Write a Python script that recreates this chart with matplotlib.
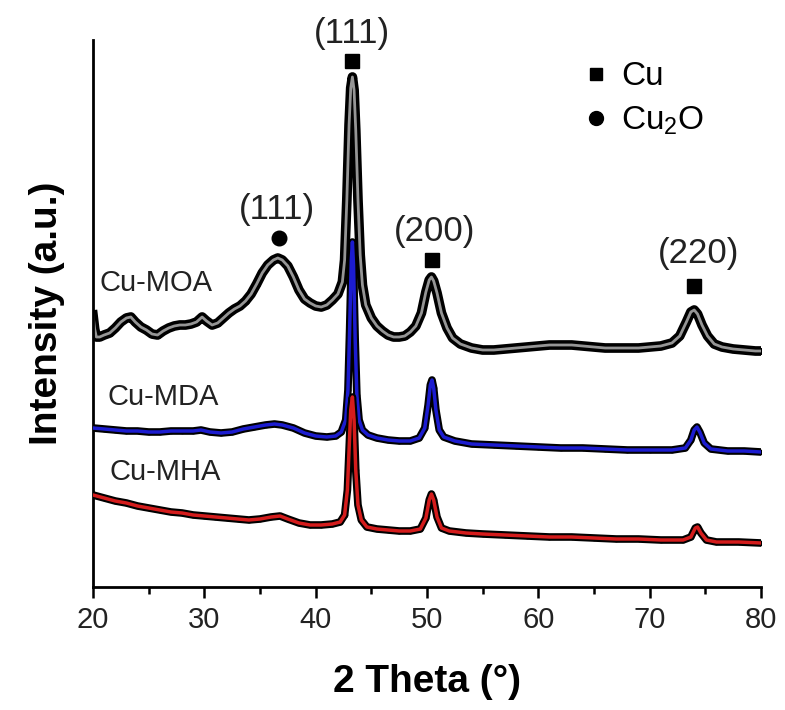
import matplotlib
matplotlib.use("Agg")
import matplotlib.pyplot as plt
from matplotlib.lines import Line2D
from matplotlib.ticker import MultipleLocator

plt.rcParams['font.family'] = ['Liberation Sans', 'DejaVu Sans']

# ---------------- data (arbitrary intensity units) ----------------
moa_2theta = [20.0, 20.15, 20.3, 20.6, 21.0, 21.5, 22.0, 22.5, 23.0, 23.4, 23.8, 24.3, 24.8,
              25.3, 25.8, 26.3, 26.8, 27.3, 27.8, 28.3, 28.8, 29.3, 29.8, 30.2, 30.7, 31.2,
              31.7, 32.2, 32.7, 33.2, 33.7, 34.2, 34.7, 35.2, 35.7, 36.2, 36.6, 37.0, 37.5,
              38.0, 38.5, 39.0, 39.5, 40.0, 40.5, 41.0, 41.5, 42.0, 42.4, 42.6, 42.8, 43.0,
              43.15, 43.3, 43.45, 43.6, 43.8, 44.0, 44.2, 44.5, 45.0, 45.5, 46.0, 46.5, 47.0,
              47.5, 48.0, 48.5, 49.0, 49.5, 49.9, 50.2, 50.4, 50.6, 50.9, 51.3, 51.8, 52.3,
              53.0, 54.0, 55.0, 56.0, 57.0, 58.0, 59.0, 60.0, 61.0, 62.0, 63.0, 64.0, 65.0,
              66.0, 67.0, 68.0, 69.0, 70.0, 71.0, 72.0, 72.7, 73.3, 73.7, 74.0, 74.3, 74.7,
              75.2, 75.8, 76.5, 77.5, 78.5, 79.5, 80.0]
moa_int = [272, 258, 250, 250, 252, 254, 259, 265, 269, 270, 265, 260, 257,
           253, 252, 256, 259, 261, 262, 262, 263, 265, 270, 266, 262, 264,
           269, 274, 278, 281, 286, 293, 303, 314, 322, 327, 329, 327, 321,
           310, 297, 288, 284, 281, 280, 282, 287, 293, 305, 327, 387, 462,
           499, 510, 497, 457, 387, 332, 302, 282, 269, 261, 256, 252, 250,
           250, 251, 255, 261, 274, 295, 307, 310, 306, 294, 274, 259, 249,
           243, 239, 237, 237, 238, 239, 240, 241, 242, 242, 242, 241, 240,
           239, 239, 239, 239, 240, 241, 244, 251, 265, 275, 277, 273, 262,
           251, 243, 240, 238, 237, 236, 236]

mda_2theta = [20.0, 21.0, 22.0, 23.0, 24.0, 25.0, 26.0, 27.0, 28.0, 29.0, 29.7, 30.5, 31.5,
              32.5, 33.5, 34.5, 35.5, 36.3, 37.0, 38.0, 39.0, 40.0, 41.0, 41.8, 42.3, 42.7,
              42.9, 43.05, 43.2, 43.3, 43.4, 43.55, 43.7, 43.9, 44.2, 44.7, 45.5, 46.5, 47.5,
              48.5, 49.3, 49.8, 50.1, 50.3, 50.45, 50.6, 50.8, 51.1, 51.5, 52.5, 54.0, 56.0,
              58.0, 60.0, 62.0, 64.0, 66.0, 68.0, 70.0, 72.0, 73.2, 73.7, 74.0, 74.25, 74.5,
              74.9, 75.5, 77.0, 78.5, 80.0]
mda_int = [159, 158, 157, 156, 156, 155, 155, 156, 156, 156, 157, 155, 154,
           155, 158, 160, 162, 163, 162, 159, 154, 151, 150, 151, 155, 167,
           197, 257, 327, 345, 322, 247, 192, 167, 157, 152, 149, 147, 146,
           146, 149, 159, 182, 202, 207, 199, 177, 157, 150, 146, 143, 142,
           141, 140, 139, 139, 138, 137, 137, 137, 139, 147, 157, 160, 155,
           144, 138, 136, 136, 135]

mha_2theta = [20.0, 21.0, 22.0, 23.0, 24.0, 25.0, 26.0, 27.0, 28.0, 29.0, 30.0, 31.0, 32.0,
              33.0, 34.0, 35.0, 36.0, 36.8, 37.5, 38.5, 39.5, 40.5, 41.5, 42.2, 42.6, 42.85,
              43.0, 43.15, 43.3, 43.45, 43.6, 43.8, 44.1, 44.6, 45.5, 46.5, 47.5, 48.5, 49.4,
              49.9, 50.2, 50.4, 50.6, 50.9, 51.3, 52.0, 53.5, 55.0, 57.0, 59.0, 61.0, 63.0,
              65.0, 67.0, 69.0, 71.0, 73.0, 73.7, 74.1, 74.3, 74.6, 75.1, 76.0, 78.0, 80.0]
mha_int = [92, 89, 86, 84, 81, 79, 77, 75, 74, 72, 71, 70, 69,
           68, 67, 68, 70, 71, 68, 64, 62, 62, 63, 65, 72, 97,
           137, 177, 190, 167, 117, 82, 67, 60, 58, 57, 56, 56, 58,
           69, 87, 93, 87, 70, 59, 56, 54, 53, 52, 51, 50, 50,
           49, 48, 48, 47, 47, 50, 59, 60, 54, 47, 45, 45, 44]

sample_names = ['Cu-MOA', 'Cu-MDA', 'Cu-MHA']
sample_label_x = [20.6, 21.3, 21.5]
sample_label_y = [304, 190, 115]

# peak markers: (2theta, marker y, label y, label, marker)
peak_x = [36.7, 43.3, 50.45, 74.0]
peak_marker_y = [349, 526, 327, 301]
peak_label_x = [36.55, 43.3, 50.7, 74.4]
peak_label_y = [377, 554, 355, 334]
peak_labels = ['(111)', '(111)', '(200)', '(220)']
peak_markers = ['o', 's', 's', 's']

legend_labels = ['Cu', 'Cu$_\\mathregular{2}$O']
x_ticks = [20, 30, 40, 50, 60, 70, 80]

# ---------------- figure ----------------
fig = plt.figure(figsize=(7.85, 7.1), dpi=100)
ax = fig.add_axes([93 / 785, 1 - 587 / 710, 668 / 785, 547 / 710])

# Cu-MOA (gray)
ax.plot(moa_2theta, moa_int, color='black', lw=7, marker='o', ms=4, zorder=1,
        solid_joinstyle='round')
ax.plot(moa_2theta, moa_int, color='#959595', lw=2.0, zorder=2)
# Cu-MDA (blue)
ax.plot(mda_2theta, mda_int, color='black', lw=5.5, marker='o', ms=3, zorder=3,
        solid_joinstyle='round')
ax.plot(mda_2theta, mda_int, color='#1c1ccf', lw=2.5, zorder=4)
# Cu-MHA (red)
ax.plot(mha_2theta, mha_int, color='black', lw=5.5, marker='o', ms=3, zorder=5,
        solid_joinstyle='round')
ax.plot(mha_2theta, mha_int, color='#d41c1c', lw=2.5, zorder=6)

for name, lx, ly in zip(sample_names, sample_label_x, sample_label_y):
    ax.text(lx, ly, name, fontsize=21, ha='left', va='center', color='#222222')

for px, my, tx, ty, lab, mk in zip(peak_x, peak_marker_y, peak_label_x, peak_label_y,
                                   peak_labels, peak_markers):
    ax.plot([px], [my], marker=mk, color='black', ls='none',
            ms=(10.5 if mk == 'o' else 9.5), zorder=7, clip_on=False)
    ax.text(tx, ty, lab, fontsize=25, ha='center', va='center', color='#222222')

handles = [Line2D([], [], marker='s', color='black', ls='none', ms=8.5),
           Line2D([], [], marker='o', color='black', ls='none', ms=10)]
ax.legend(handles, legend_labels, loc='upper left', bbox_to_anchor=(0.738, 0.961),
          frameon=False, fontsize=24, handlelength=0.6, handletextpad=0.45,
          labelspacing=0.37, borderpad=0, borderaxespad=0)

ax.set_xlim(20, 80)
ax.set_ylim(0, 547)
ax.set_xticks(x_ticks)
ax.xaxis.set_minor_locator(MultipleLocator(5))
ax.set_yticks([])
for s in ['top', 'right']:
    ax.spines[s].set_visible(False)
for s in ['left', 'bottom']:
    ax.spines[s].set_linewidth(2.0)
ax.tick_params(axis='x', which='major', direction='out', length=8, width=1.8,
               labelsize=21, pad=6, labelcolor='#222222')
ax.tick_params(axis='x', which='minor', direction='out', length=5, width=1.8)

ax.set_xlabel('2 Theta (°)', fontsize=28, fontweight='bold', labelpad=21)
ax.set_ylabel('Intensity (a.u.)', fontsize=28, fontweight='bold', labelpad=20)

fig.savefig('out.png', dpi=100)
